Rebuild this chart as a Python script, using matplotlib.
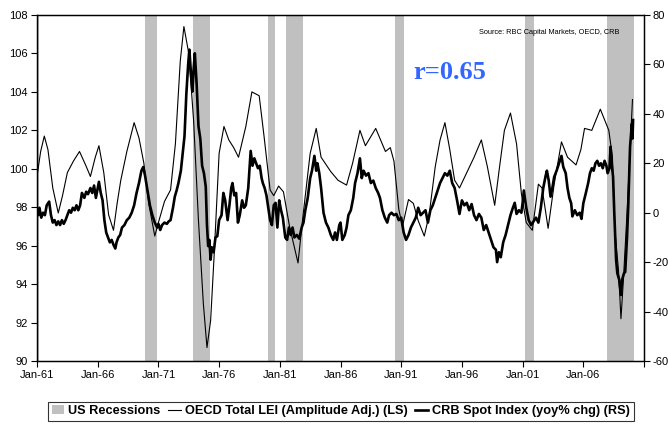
import matplotlib.pyplot as plt
from matplotlib.patches import Patch
from matplotlib.lines import Line2D

# OECD total leading indicator, amplitude adjusted (left scale)
lei_t = [1961.0, 1961.3, 1961.6, 1961.9, 1962.3, 1962.75, 1963.1, 1963.5, 1964.0, 1964.5,
         1965.0, 1965.4, 1965.8, 1966.1, 1966.5, 1966.9, 1967.3, 1967.6, 1967.9, 1968.4,
         1969.0, 1969.4, 1969.8, 1970.2, 1970.7, 1971.0, 1971.5, 1972.0, 1972.4, 1972.8,
         1973.1, 1973.5, 1973.9, 1974.3, 1974.7, 1975.0, 1975.3, 1975.6, 1976.0, 1976.4,
         1976.8, 1977.2, 1977.6, 1978.2, 1978.7, 1979.3, 1979.7, 1980.2, 1980.5, 1980.9,
         1981.3, 1981.8, 1982.5, 1982.9, 1983.5, 1984.0, 1984.4, 1985.2, 1985.8, 1986.5,
         1987.0, 1987.6, 1988.05, 1988.9, 1989.7, 1990.1, 1990.4, 1990.8, 1991.1, 1991.6,
         1992.0, 1992.4, 1992.9, 1993.3, 1993.8, 1994.2, 1994.6, 1995.0, 1995.4, 1995.8,
         1996.4, 1997.0, 1997.6, 1998.1, 1998.7, 1999.1, 1999.5, 2000.0, 2000.5, 2000.9,
         2001.3, 2001.8, 2002.3, 2002.6, 2003.1, 2003.6, 2004.2, 2004.7, 2005.4, 2005.8,
         2006.1, 2006.7, 2007.4, 2008.1, 2008.4, 2008.6, 2008.9, 2009.1, 2009.3, 2009.6,
         2009.8, 2010.05]
lei_v = [99.6, 100.9, 101.7, 101.0, 99.0, 97.7, 98.6, 99.8, 100.4, 100.9,
         100.2, 99.6, 100.6, 101.2, 99.8, 97.6, 96.8, 98.2, 99.4, 100.9,
         102.4, 101.6, 100.3, 98.2, 96.5, 97.2, 98.3, 98.9, 101.3, 105.6,
         107.4, 106.0, 102.5, 97.3, 93.0, 90.7, 92.1, 95.6, 100.8, 102.2,
         101.5, 101.1, 100.6, 102.2, 104.0, 103.8, 101.7, 98.9, 98.6, 99.1,
         98.8, 97.0, 95.1, 97.5, 100.8, 102.1, 100.6, 99.85, 99.4, 99.15,
         100.3, 102.0, 101.2, 102.1, 100.9, 101.1, 100.4, 97.9, 97.0, 98.4,
         98.2, 97.3, 96.5, 97.6, 100.1, 101.5, 102.4, 101.0, 99.4, 99.0,
         99.8, 100.6, 101.5, 100.1, 98.1, 100.1, 102.0, 102.9, 101.3, 98.7,
         97.2, 96.8, 99.2, 99.0, 96.9, 99.2, 101.4, 100.6, 100.2, 101.0,
         102.1, 102.0, 103.1, 102.0, 100.6, 96.8, 94.7, 92.2, 94.2, 97.7,
         100.3, 103.6]

# CRB spot index, year-on-year % change (right scale)
crb_t = [1961.0, 1961.1, 1961.2, 1961.35, 1961.5, 1961.65, 1961.8, 1962.0, 1962.15, 1962.3,
         1962.45, 1962.6, 1962.75, 1962.9, 1963.05, 1963.2, 1963.35, 1963.5, 1963.65, 1963.8,
         1963.95, 1964.1, 1964.25, 1964.4, 1964.55, 1964.7, 1964.9, 1965.05, 1965.2, 1965.4,
         1965.55, 1965.7, 1965.85, 1966.0, 1966.1, 1966.25, 1966.4, 1966.55, 1966.7, 1966.85,
         1967.0, 1967.15, 1967.3, 1967.45, 1967.55, 1967.7, 1967.85, 1968.0, 1968.2, 1968.4,
         1968.6, 1968.8, 1969.0, 1969.2, 1969.4, 1969.6, 1969.75, 1969.9, 1970.1, 1970.3,
         1970.5, 1970.7, 1970.9, 1971.0, 1971.15, 1971.3, 1971.5, 1971.7, 1971.85, 1972.0,
         1972.2, 1972.35, 1972.5, 1972.65, 1972.85, 1973.0, 1973.15, 1973.3, 1973.45, 1973.55,
         1973.7, 1973.8, 1973.9, 1974.0, 1974.15, 1974.3, 1974.45, 1974.6, 1974.75, 1974.9,
         1975.0, 1975.1, 1975.2, 1975.3, 1975.4, 1975.55, 1975.7, 1975.85, 1976.0, 1976.2,
         1976.35, 1976.5, 1976.7, 1976.85, 1977.0, 1977.1, 1977.25, 1977.4, 1977.55, 1977.7,
         1977.9, 1978.05, 1978.2, 1978.4, 1978.6, 1978.75, 1978.9, 1979.05, 1979.2, 1979.35,
         1979.5, 1979.6, 1979.75, 1979.9, 1980.05, 1980.2, 1980.35, 1980.5, 1980.65, 1980.8,
         1980.95, 1981.1, 1981.25, 1981.45, 1981.6, 1981.75, 1981.9, 1982.05, 1982.2, 1982.4,
         1982.6, 1982.8, 1982.95, 1983.1, 1983.3, 1983.5, 1983.65, 1983.85, 1984.0, 1984.1,
         1984.25, 1984.4, 1984.6, 1984.8, 1985.0, 1985.2, 1985.4, 1985.55, 1985.7, 1985.9,
         1986.0, 1986.15, 1986.35, 1986.5, 1986.65, 1986.85, 1987.05, 1987.2, 1987.4, 1987.6,
         1987.75, 1987.9, 1988.1, 1988.3, 1988.5, 1988.7, 1988.9, 1989.1, 1989.25, 1989.45,
         1989.65, 1989.85, 1990.0, 1990.2, 1990.4, 1990.6, 1990.8, 1991.0, 1991.2, 1991.4,
         1991.6, 1991.8, 1992.0, 1992.2, 1992.4, 1992.6, 1992.8, 1993.0, 1993.2, 1993.4,
         1993.6, 1993.8, 1994.0, 1994.2, 1994.4, 1994.6, 1994.8, 1995.0, 1995.2, 1995.4,
         1995.6, 1995.8, 1996.0, 1996.2, 1996.4, 1996.6, 1996.8, 1997.0, 1997.2, 1997.4,
         1997.6, 1997.8, 1998.0, 1998.2, 1998.4, 1998.6, 1998.8, 1998.9, 1999.05, 1999.2,
         1999.4, 1999.6, 1999.8, 2000.0, 2000.2, 2000.35, 2000.5, 2000.7, 2000.9, 2001.0,
         2001.1, 2001.3, 2001.5, 2001.7, 2001.9, 2002.1, 2002.3, 2002.5, 2002.7, 2002.9,
         2003.0, 2003.15, 2003.3, 2003.45, 2003.6, 2003.8, 2004.0, 2004.2, 2004.35, 2004.55,
         2004.7, 2004.85, 2005.0, 2005.1, 2005.3, 2005.5, 2005.7, 2005.85, 2006.0, 2006.2,
         2006.4, 2006.55, 2006.7, 2006.85, 2007.0, 2007.15, 2007.3, 2007.45, 2007.6, 2007.75,
         2007.9, 2008.0, 2008.15, 2008.25, 2008.35, 2008.45, 2008.55, 2008.7, 2008.8, 2008.95,
         2009.1, 2009.2, 2009.35, 2009.45, 2009.6, 2009.7, 2009.85, 2010.0, 2010.05, 2010.1]
crb_v = [1.5, -1, 2, -2, 0, -1, 3, 4.5, -1, -4,
         -3, -5, -3.5, -5, -3, -4.5, -3, -1, 1, 0,
         2, 1, 3, 1, 3, 8, 6, 8.5, 7.5, 10,
         8, 11, 6, 10, 12.5, 8, 5, -3, -8, -10,
         -12, -11, -13, -14.5, -12, -10, -9, -6, -5, -3,
         -2, 0, 3, 8, 12, 17, 18.5, 15, 9, 3,
         -1, -4, -6, -4.5, -7, -5, -4, -4.5, -3.5, -3,
         2, 6.5, 9, 12, 17, 24, 31, 48, 60, 66,
         55, 49, 58, 64.5, 52, 35, 30, 19, 16, 10.5,
         -5, -13.5, -11, -19, -14, -16, -10, -9.5, -3, -1,
         8, 5, -3, 3, 10, 12, 7, 8, -4, -1,
         5, 2, 3, 10, 25, 19, 22, 20, 18, 19,
         14, 12, 10, 7, 2, -3, -5, 3, 4, -6,
         5, 1, -2, -10, -11, -6, -9, -6, -10, -9,
         -10.5, -6, -4, 1, 6, 14, 17, 23, 17, 20,
         16, 10, 0, -4, -6, -9, -11, -8, -11, -5,
         -4, -11, -9, -6, -1, 1, 6, 12, 16, 22,
         14, 17, 15, 16, 12, 13, 10, 8, 6, 1,
         -2, -4, -1, 0, -1, -0.5, -3, -2, -8, -11,
         -9, -6, -4, -2, 2, -1, 0, 1, -4, 1,
         3, 6, 9, 12, 14, 16, 15, 17, 12, 10,
         5, -0.5, 5, 3, 4, 1, 3.5, -1, -3, -0.5,
         -2, -7, -5, -8, -11, -14, -15, -20, -16, -18,
         -12, -9, -5, -1, 2, 4, -0.5, 1, 0, 4,
         9, 2, -3, -5, -3.5, -2, -4, 2, 10, 15,
         17, 13, 6.5, 10, 14.5, 17, 20, 23, 18.5, 16,
         10, 6, 3.8, -1.5, 1, -1, 0, -2.5, 3.8, 7.8,
         12, 16, 18, 17, 20, 21, 19, 20, 18, 21,
         19, 16, 18, 26.7, 19, 14.6, 0, -19, -24.5, -27,
         -33.3, -27, -24.5, -24, -10, 2.4, 26.7, 36, 30, 37.5]

# NBER recession periods (start, end) in decimal years
recessions = [(1960.3, 1961.15), (1969.92, 1970.92), (1973.83, 1975.25), (1980.0, 1980.6),
              (1981.5, 1982.92), (1990.5, 1991.25), (2001.17, 2001.92), (2007.92, 2010.2)]

tick_years = list(range(1961, 2012, 5))
tick_labels = ["Jan-%02d" % (y % 100) for y in tick_years[:-1]] + [""]

plt.rcParams['font.family'] = ['Liberation Sans', 'DejaVu Sans']
plt.rcParams['axes.unicode_minus'] = False

fig = plt.figure(figsize=(6.68, 4.25), dpi=100)
ax = fig.add_axes([0.0554, 0.1506, 0.9087, 0.8141])

for start, end in recessions:
    ax.axvspan(start, end, color='#c0c0c0', lw=0, zorder=0)

ax.plot(lei_t, lei_v, color='black', lw=0.8, zorder=2)
ax.set_xlim(1961, 2011)
ax.set_ylim(90, 108)
ax.set_yticks(range(90, 109, 2))
ax.set_xticks(tick_years)
ax.set_xticklabels(tick_labels)
ax.tick_params(labelsize=8, length=4, width=0.8, pad=2.5)

ax2 = ax.twinx()
ax2.plot(crb_t, crb_v, color='black', lw=1.9, zorder=3)
ax2.set_ylim(-60, 80)
ax2.set_yticks(range(-60, 81, 20))
ax2.tick_params(labelsize=8, length=4, width=0.8, pad=2)

for a in (ax, ax2):
    for s in a.spines.values():
        s.set_linewidth(0.9)

ax.text(0.96, 0.95, "Source: RBC Capital Markets, OECD, CRB", transform=ax.transAxes,
        fontsize=5.3, ha='right', va='center')
ax.text(0.68, 0.835, "r=0.65", transform=ax.transAxes, fontsize=19,
        fontfamily='Liberation Serif', fontweight='bold', color='#3366ff',
        ha='center', va='center')

handles = [Patch(facecolor='#c0c0c0', edgecolor='none'),
           Line2D([], [], color='black', lw=0.8),
           Line2D([], [], color='black', lw=1.9)]
labels = ["US Recessions", "OECD Total LEI (Amplitude Adj.) (LS)",
          "CRB Spot Index (yoy% chg) (RS)"]
leg = fig.legend(handles, labels, loc='center', bbox_to_anchor=(0.51, 0.032), ncol=3,
                 frameon=True, fancybox=False, handlelength=1.0, handletextpad=0.3,
                 columnspacing=0.6, borderpad=0.3,
                 prop={'size': 9.2, 'weight': 'bold'})
leg.get_frame().set_edgecolor('black')
leg.get_frame().set_linewidth(0.8)

fig.savefig("out.png", dpi=100)
